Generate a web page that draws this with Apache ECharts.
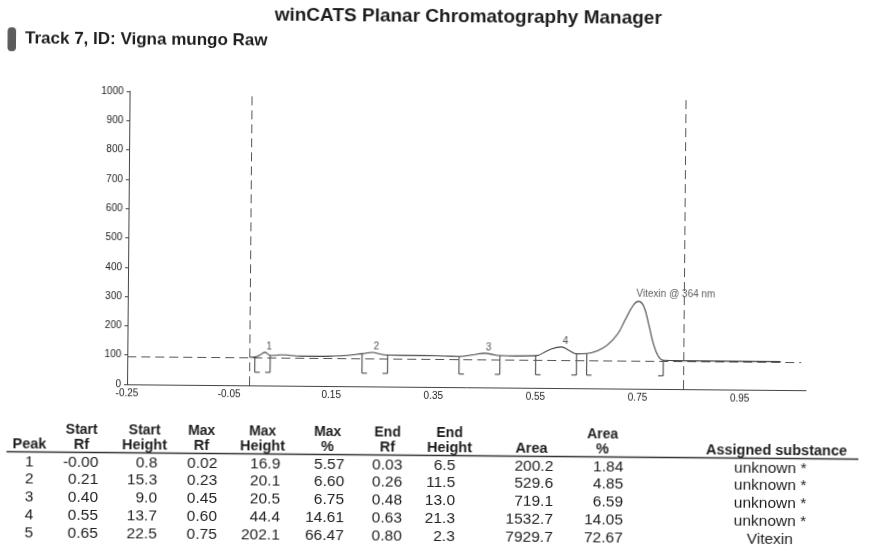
<!DOCTYPE html>
<html>
<head>
<meta charset="utf-8">
<title>winCATS Planar Chromatography Manager</title>
<script src="https://cdn.jsdelivr.net/npm/echarts/dist/echarts.min.js"></script>
<style>
  html, body { margin: 0; padding: 0; background: #fff; overflow: hidden; }
  /* the scanned report sits slightly rotated */
  #chart { width: 881px; height: 551px; transform: rotate(0.5deg); }
</style>
</head>
<body>
<div id="chart"></div>
<script>
// densitogram trace: Rf and height above the baseline
const traceRf = [-0.01, 0.00, 0.01, 0.02, 0.025, 0.03, 0.04, 0.05, 0.06, 0.07, 0.09, 0.12, 0.15, 0.18,
  0.21, 0.23, 0.245, 0.26, 0.29, 0.33, 0.37, 0.40, 0.43, 0.45, 0.47, 0.48, 0.51, 0.55, 0.575,
  0.60, 0.615, 0.63, 0.65, 0.67, 0.69, 0.71, 0.725, 0.74, 0.75, 0.76, 0.77, 0.78, 0.79, 0.80,
  0.83, 0.90, 1.03];
const traceHeight = [0, 0.8, 8, 16.9, 12, 6.5, 7, 9, 9, 7, 5, 5, 6, 9,
  15.3, 20.1, 15, 11.5, 11, 11, 10, 9.0, 16, 20.5, 15, 13.0, 12, 13.7, 33,
  44.4, 33, 21.3, 22.5, 32, 52, 90, 140, 188, 202.1, 188, 130, 60, 16, 2.3,
  1, 1, 1];
const baseline = 96;
const frontLines = [-0.01, 0.845];

const xTickLabels = [-0.25, -0.05, 0.15, 0.35, 0.55, 0.75, 0.95];

// peak table
const peakNo = [1, 2, 3, 4, 5];
const startRf = [-0.0, 0.21, 0.40, 0.55, 0.65];
const startHeight = [0.8, 15.3, 9.0, 13.7, 22.5];
const maxRf = [0.02, 0.23, 0.45, 0.60, 0.75];
const maxHeight = [16.9, 20.1, 20.5, 44.4, 202.1];
const maxPct = [5.57, 6.60, 6.75, 14.61, 66.47];
const endRf = [0.03, 0.26, 0.48, 0.63, 0.80];
const endHeight = [6.5, 11.5, 13.0, 21.3, 2.3];
const area = [200.2, 529.6, 719.1, 1532.7, 7929.7];
const areaPct = [1.84, 4.85, 6.59, 14.05, 72.67];
const substance = ['unknown *', 'unknown *', 'unknown *', 'unknown *', 'Vitexin'];
const peakLabels = ['1', '2', '3', '4', 'Vitexin @ 364 nm'];

const FONT = '"Liberation Sans", Arial, sans-serif';
const ink = '#1e1e1e';

const rf2 = v => ((v < 0 || Object.is(v, -0)) ? '-' : '') + Math.abs(v).toFixed(2);
const f1 = v => v.toFixed(1);
const f2 = v => v.toFixed(2);

const cols = [
  { head: ['', 'Peak'], hx: 31, x: 31, align: 'center', cells: peakNo.map(String) },
  { head: ['Start', 'Rf'], hx: 83, x: 100, align: 'right', cells: startRf.map(rf2) },
  { head: ['Start', 'Height'], hx: 146, x: 159, align: 'right', cells: startHeight.map(f1) },
  { head: ['Max', 'Rf'], hx: 203, x: 219, align: 'right', cells: maxRf.map(rf2) },
  { head: ['Max', 'Height'], hx: 264, x: 282, align: 'right', cells: maxHeight.map(f1) },
  { head: ['Max', '%'], hx: 329, x: 346, align: 'right', cells: maxPct.map(f2) },
  { head: ['End', 'Rf'], hx: 389, x: 404, align: 'right', cells: endRf.map(rf2) },
  { head: ['End', 'Height'], hx: 451, x: 457, align: 'right', cells: endHeight.map(f1) },
  { head: ['', 'Area'], hx: 533, x: 555, align: 'right', cells: area.map(f1) },
  { head: ['Area', '%'], hx: 604, x: 625, align: 'right', cells: areaPct.map(f2) },
  { head: ['', 'Assigned substance'], hx: 778, x: 772, align: 'center', cells: substance }
];

function txt(text, x, y, align, font) {
  return {
    type: 'text', silent: true,
    style: { text, x, y, align, textAlign: align, verticalAlign: 'middle', textVerticalAlign: 'middle', font, fill: ink }
  };
}

const tableEls = [];
cols.forEach(c => {
  if (c.head[0]) tableEls.push(txt(c.head[0], c.hx, 433, 'center', 'bold 14px ' + FONT));
  tableEls.push(txt(c.head[1], c.hx, 447.6, 'center', 'bold 14.5px ' + FONT));
  c.cells.forEach((s, i) => tableEls.push(txt(s, c.x, 465.3 + i * 17.8, c.align, '15.5px ' + FONT)));
});
tableEls.push({
  type: 'line', silent: true,
  shape: { x1: 8, y1: 455.5, x2: 860, y2: 455.5 },
  style: { stroke: '#333', lineWidth: 1.5 }
});
// track marker
tableEls.push({
  type: 'rect', silent: true,
  shape: { x: 5.5, y: 31, width: 8.5, height: 24, r: 4 },
  style: { fill: '#5c5c5c' }
});

function renderBracket(params, api) {
  const s = api.value(0), e = api.value(1);
  const sTop = api.coord([s, baseline + api.value(2)]);
  const eTop = api.coord([e, baseline + api.value(3)]);
  const bottom = api.coord([s, baseline])[1] + 15;
  const st = { stroke: '#3a3a3a', fill: null, lineWidth: 1 };
  return {
    type: 'group',
    children: [
      { type: 'polyline', shape: { points: [[sTop[0], sTop[1]], [sTop[0], bottom], [sTop[0] + 5, bottom]] }, style: st },
      { type: 'polyline', shape: { points: [[eTop[0], eTop[1]], [eTop[0], bottom], [eTop[0] - 5, bottom]] }, style: st }
    ]
  };
}

const chart = echarts.init(document.getElementById('chart'));
chart.setOption({
  animation: false,
  backgroundColor: '#fff',
  textStyle: { fontFamily: FONT },
  title: [
    {
      text: 'winCATS Planar Chromatography Manager',
      left: 466, top: 7, textAlign: 'center', padding: 0,
      textStyle: { fontSize: 19, fontWeight: 'bold', color: ink, fontFamily: FONT }
    },
    {
      text: 'Track 7, ID: Vigna mungo Raw',
      left: 23, top: 34, padding: 0,
      textStyle: { fontSize: 17, fontWeight: 'bold', color: ink, fontFamily: FONT }
    }
  ],
  grid: { left: 128, right: 74, top: 94, bottom: 164, containLabel: false, outerBoundsMode: 'none' },
  xAxis: {
    type: 'value', min: -0.25, max: 1.08, interval: 0.05,
    axisLine: { onZero: false, lineStyle: { color: '#444', width: 1 } },
    axisTick: { show: false },
    splitLine: { show: false },
    axisLabel: {
      fontSize: 10, color: '#222', margin: 4,
      formatter: v => xTickLabels.some(t => Math.abs(t - v) < 1e-6) ? v.toFixed(2) : ''
    }
  },
  yAxis: {
    type: 'value', min: 0, max: 1000, interval: 100,
    axisLine: { show: true, onZero: false, lineStyle: { color: '#444', width: 1 } },
    axisTick: { show: true, length: 3, lineStyle: { color: '#444' } },
    splitLine: { show: false },
    axisLabel: { fontSize: 10, color: '#222', margin: 6, formatter: v => String(v) }
  },
  graphic: tableEls,
  series: [
    {
      type: 'line',
      data: traceRf.map((r, i) => [r, baseline + traceHeight[i]]),
      showSymbol: false, symbol: 'none',
      smooth: 0.45,
      lineStyle: { color: '#444', width: 1.1 },
      z: 3,
      markLine: {
        silent: true, symbol: 'none', label: { show: false },
        lineStyle: { color: '#555', width: 1, type: [9, 5] },
        data: [
          ...frontLines.map(v => ({ xAxis: v })),
          [{ coord: [-0.25, baseline] }, { coord: [1.07, baseline] }]
        ]
      }
    },
    {
      type: 'custom',
      renderItem: renderBracket,
      data: peakNo.map((p, i) => [startRf[i], endRf[i], startHeight[i], endHeight[i]]),
      z: 2
    },
    {
      type: 'scatter',
      symbolSize: 0,
      data: maxRf.map((r, i) => ({
        value: [r, baseline + maxHeight[i]],
        label: i === peakLabels.length - 1
          ? { show: true, formatter: peakLabels[i], position: 'top', align: 'left', offset: [-2, 0], distance: 2, fontSize: 10, color: '#333' }
          : { show: true, formatter: peakLabels[i], position: 'top', offset: [4, 0], distance: 1, fontSize: 10, color: '#222' }
      })),
      z: 4
    }
  ]
});
</script>
</body>
</html>
